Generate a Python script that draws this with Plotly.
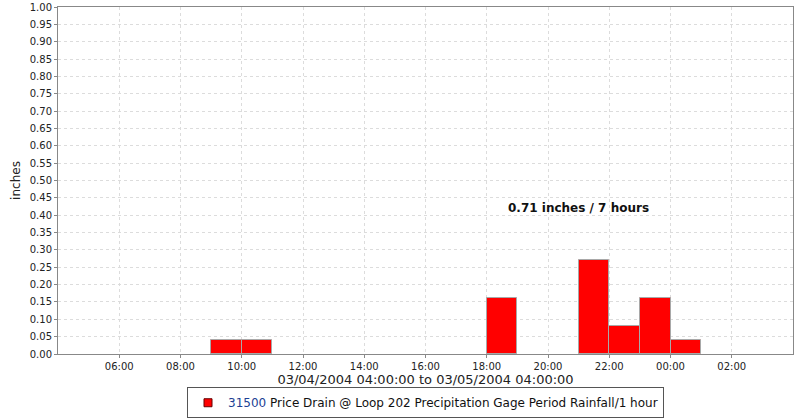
import plotly.graph_objects as go

hour_starts = ["2004-03-04 09:00", "2004-03-04 10:00", "2004-03-04 18:00",
               "2004-03-04 21:00", "2004-03-04 22:00", "2004-03-04 23:00",
               "2004-03-05 00:00"]
rain_in = [0.04, 0.04, 0.16, 0.27, 0.08, 0.16, 0.04]
y_ticks = [round(i * 0.05, 2) for i in range(21)]
x_ticks = ["2004-03-04 06:00", "2004-03-04 08:00", "2004-03-04 10:00",
           "2004-03-04 12:00", "2004-03-04 14:00", "2004-03-04 16:00",
           "2004-03-04 18:00", "2004-03-04 20:00", "2004-03-04 22:00",
           "2004-03-05 00:00", "2004-03-05 02:00"]
x_labels = ["06:00", "08:00", "10:00", "12:00", "14:00", "16:00",
            "18:00", "20:00", "22:00", "00:00", "02:00"]
series_name = "<span style='color:#1c3f94'>31500</span> Price Drain @ Loop 202 Precipitation Gage Period Rainfall/1 hour"
summary_text = "0.71 inches / 7 hours"

fig = go.Figure()
fig.add_trace(go.Bar(
    x=hour_starts, y=rain_in, offset=0, width=3600000,
    marker=dict(color="#ff0000", line=dict(color="#a8a8a8", width=1)),
    name=series_name, showlegend=False,
))
# legend entry with a small red swatch
fig.add_trace(go.Scatter(
    x=[None], y=[None], mode="markers", name=series_name,
    marker=dict(symbol="square", size=8, color="#ff0000",
                line=dict(color="#660000", width=1)),
    showlegend=True,
))

fig.add_annotation(x="2004-03-04 21:00", y=0.42, text=f"<b>{summary_text}</b>",
                   showarrow=False, font=dict(family="DejaVu Sans", size=12, color="#111"))

axis_common = dict(showline=True, linecolor="#888888", linewidth=1, mirror=True,
                   gridcolor="#dcdcdc", griddash="3px,3px", gridwidth=1,
                   ticks="outside", ticklen=3, tickcolor="#888888",
                   tickfont=dict(family="DejaVu Sans", size=10, color="#222"),
                   zeroline=False, automargin=False)

fig.update_layout(
    width=800, height=420,
    margin=dict(l=58, r=7, t=7, b=66),
    plot_bgcolor="white", paper_bgcolor="white",
    font=dict(family="DejaVu Sans", size=11, color="#222"),
    bargap=0,
    xaxis=dict(type="date", range=["2004-03-04 04:00", "2004-03-05 04:00"],
               tickvals=x_ticks, ticktext=x_labels,
               title=dict(text="03/04/2004 04:00:00 to 03/05/2004 04:00:00",
                          font=dict(size=13, color="#222"), standoff=5),
               **axis_common),
    yaxis=dict(range=[0, 1.0], tickvals=y_ticks,
               ticktext=[f"{v:.2f}" for v in y_ticks],
               title=dict(text="inches", font=dict(size=12, color="#222"), standoff=6),
               **axis_common),
    legend=dict(orientation="h", x=0.5, xanchor="center",
                yref="container", y=0.078, yanchor="top",
                bordercolor="#555555", borderwidth=1,
                font=dict(family="DejaVu Sans", size=12, color="#111"),
                itemwidth=30, tracegroupgap=0),
)

fig.write_html("out.html", config={"displayModeBar": False},
               post_script="document.body.style.margin='0';")
